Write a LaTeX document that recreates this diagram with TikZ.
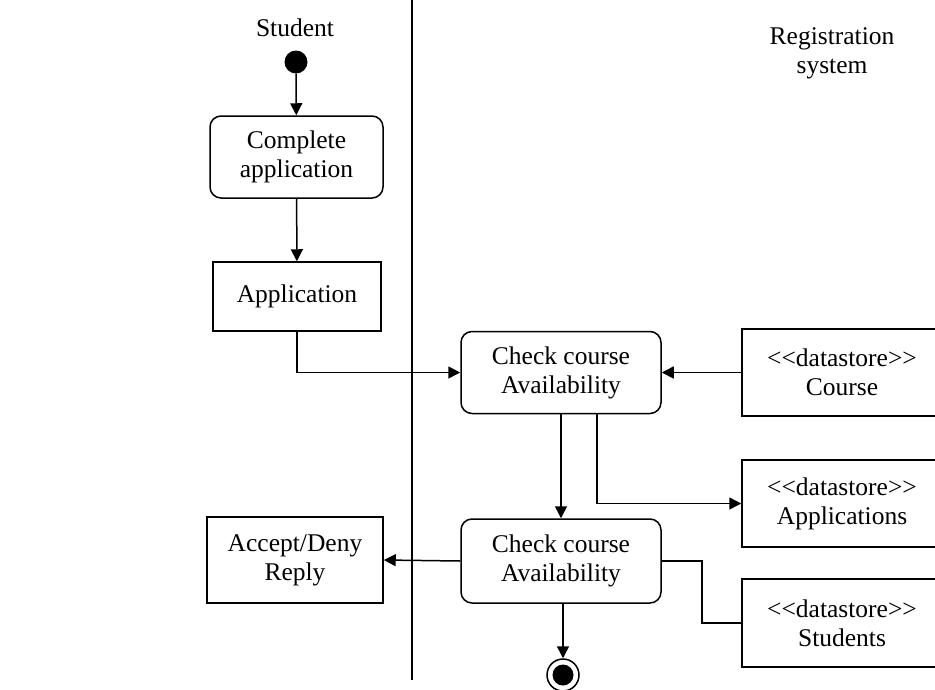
\documentclass[tikz,border=0pt]{standalone}
\usepackage{fontspec}
\setmainfont{Liberation Serif}
\usetikzlibrary{arrows.meta}
\newcommand\stereo[1]{<\kern0pt<#1>\kern0pt>}
\begin{document}
\begin{tikzpicture}[x=1pt,y=-1pt,
  every node/.style={font=\fontsize{25.5}{29}\selectfont},
  line/.style={line width=1.5pt},
  flow/.style={line, -{Triangle[length=12pt,width=12pt]}},
  act/.style={draw, line width=1.5pt, rounded corners=11pt, align=center, inner sep=0pt},
  obj/.style={draw, line width=1.5pt, align=center, inner sep=0pt},
  lanelabel/.style={align=center, inner sep=0pt}]
\useasboundingbox (0,0) rectangle (935,689);
\clip (0,0) rectangle (935,689);

% swimlane separator and lane titles
\coordinate (laneTop) at (412,0);
\coordinate (laneBot) at (412,680);
\draw[line] (laneTop) -- (laneBot);
\node[lanelabel] (student) at (295,28) {Student};
\node[lanelabel] (regsys) at (832,53) {Registration\\system};

% start and end states
\node[circle, fill=black, minimum size=23pt, inner sep=0pt] (start) at (296,62) {};
\node[circle, draw, line width=1.5pt, minimum size=32pt, inner sep=0pt] (final) at (563,675) {};
\node[circle, fill=black, minimum size=21pt, inner sep=0pt] (finalDot) at (563,675) {};

% actions and objects
\node[act, minimum width=173pt, minimum height=82pt] (complete) at (296.5,157) {Complete\\application};
\node[obj, minimum width=168pt, minimum height=69pt] (application) at (297,296.5) {Application};
\node[act, minimum width=200pt, minimum height=82pt] (check1) at (561,372.5) {Check course\\Availability};
\node[act, minimum width=200pt, minimum height=84pt] (check2) at (561,561) {Check course\\Availability};
\node[obj, minimum width=176pt, minimum height=86pt] (reply) at (295,560) {Accept/Deny\\Reply};
\node[obj, minimum width=200pt, minimum height=87pt] (course) at (842,372.5) {\stereo{datastore}\\Course};
\node[obj, minimum width=200pt, minimum height=87pt] (apps) at (842,503.5) {\stereo{datastore}\\Applications};
\node[obj, minimum width=200pt, minimum height=88pt] (students) at (842,623) {\stereo{datastore}\\Students};

% control and object flows
\draw[flow] (start) -- (complete);
\draw[flow] (complete) -- (application);
\draw[flow] (application.south) |- (check1.west);
\draw[flow] (course.west) -- (check1.east);
\draw[flow] (check1.south) -- (check2.north);
\draw[flow] ([xshift=36pt]check1.south) |- (apps.west);
\draw[flow] (check2.west) -- (reply.east);
\draw[line] (check2.east) -- ++(40,0) |- (students.west);
\draw[flow] ([xshift=2pt]check2.south) -- (final.north);
\end{tikzpicture}
\end{document}
